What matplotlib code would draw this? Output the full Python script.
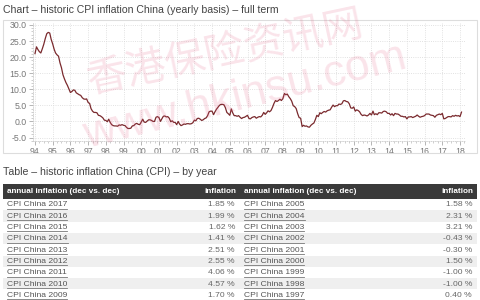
import numpy as np
import pandas as pd
import matplotlib
matplotlib.use("Agg")
import matplotlib.pyplot as plt
import matplotlib.dates as mdates
from matplotlib.patches import Rectangle

plt.rcParams['font.family'] = ['Liberation Sans', 'DejaVu Sans']

# monthly CPI inflation China (yoy, %), Jan 1994 - Feb 2018
cpi = [
    21.1, 23.2, 22.4, 21.7, 21.3, 22.6, 24.0, 25.8, 27.3, 27.7, 27.5, 25.5,  # 1994
    24.1, 22.4, 21.3, 20.7, 20.3, 18.2, 16.7, 14.5, 13.2, 12.1, 11.2, 10.1,  # 1995
    9.0, 9.3, 9.8, 9.7, 8.9, 8.6, 8.3, 8.1, 7.4, 7.0, 6.9, 7.0,              # 1996
    5.9, 5.6, 4.0, 3.2, 2.8, 2.8, 2.7, 1.9, 1.8, 1.5, 1.1, 0.4,              # 1997
    0.3, -0.1, 0.7, -0.3, -1.0, -1.3, -1.4, -1.4, -1.5, -1.1, -1.2, -1.0,    # 1998
    -1.2, -1.3, -1.8, -2.2, -2.2, -2.1, -1.4, -1.3, -0.8, -0.6, -0.9, -1.0,  # 1999
    -0.2, 0.7, -0.2, -0.3, 0.1, 0.5, 0.5, 0.3, 0.0, 0.0, 1.3, 1.5,           # 2000
    1.2, 0.0, 0.8, 1.6, 1.7, 1.4, 1.5, 1.0, -0.1, 0.2, -0.3, -0.3,           # 2001
    -1.0, 0.0, -0.8, -1.3, -1.1, -0.8, -0.9, -0.7, -0.7, -0.8, -0.7, -0.4,   # 2002
    0.4, 0.2, 0.9, 1.0, 0.7, 0.3, 0.5, 0.9, 1.1, 1.8, 3.0, 3.2,              # 2003
    3.2, 2.1, 3.0, 3.8, 4.4, 5.0, 5.3, 5.3, 5.2, 4.3, 2.8, 2.4,              # 2004
    1.9, 3.9, 2.7, 1.8, 1.8, 1.6, 1.8, 1.3, 0.9, 1.2, 1.3, 1.6,              # 2005
    1.9, 0.9, 0.8, 1.2, 1.4, 1.5, 1.0, 1.3, 1.5, 1.4, 1.9, 2.8,              # 2006
    2.2, 2.7, 3.3, 3.0, 3.4, 4.4, 5.6, 6.5, 6.2, 6.5, 6.9, 6.5,              # 2007
    7.1, 8.7, 8.3, 8.5, 7.7, 7.1, 6.3, 4.9, 4.6, 4.0, 2.4, 1.2,              # 2008
    1.0, -1.6, -1.2, -1.5, -1.4, -1.7, -1.8, -1.2, -0.8, -0.5, 0.6, 1.9,     # 2009
    1.5, 2.7, 2.4, 2.8, 3.1, 2.9, 3.3, 3.5, 3.6, 4.4, 5.1, 4.6,              # 2010
    4.9, 4.9, 5.4, 5.3, 5.5, 6.4, 6.5, 6.2, 6.1, 5.5, 4.2, 4.1,              # 2011
    4.5, 3.2, 3.6, 3.4, 3.0, 2.2, 1.8, 2.0, 1.9, 1.7, 2.0, 2.5,              # 2012
    2.0, 3.2, 2.1, 2.4, 2.1, 2.7, 2.7, 2.6, 3.1, 3.2, 3.0, 2.5,              # 2013
    2.5, 2.0, 2.4, 1.8, 2.5, 2.3, 2.3, 2.0, 1.6, 1.6, 1.4, 1.5,              # 2014
    0.8, 1.4, 1.4, 1.5, 1.2, 1.4, 1.6, 2.0, 1.6, 1.3, 1.5, 1.6,              # 2015
    1.8, 2.3, 2.3, 2.3, 2.0, 1.9, 1.8, 1.3, 1.9, 2.1, 2.3, 2.1,              # 2016
    2.5, 0.8, 0.9, 1.2, 1.5, 1.5, 1.4, 1.8, 1.6, 1.9, 1.7, 1.8,              # 2017
    1.5, 2.9,                                                                # 2018
]
dates = pd.date_range('1994-01-01', periods=len(cpi), freq='MS')

y_ticks = [30.0, 25.0, 20.0, 15.0, 10.0, 5.0, 0.0, -5.0]

left_years = [2017, 2016, 2015, 2014, 2013, 2012, 2011, 2010, 2009]
left_vals = [1.85, 1.99, 1.62, 1.41, 2.51, 2.55, 4.06, 4.57, 1.70]
right_years = [2005, 2004, 2003, 2002, 2001, 2000, 1999, 1998, 1997]
right_vals = [1.58, 2.31, 3.21, -0.43, -0.30, 1.50, -1.00, -1.00, 0.40]

W, H = 480, 300
fig = plt.figure(figsize=(4.8, 3.0), dpi=100)
fig.patch.set_facecolor('white')

def px(x, y):
    # pixel coords (top-left origin) -> figure fraction
    return x / W, 1 - y / H

# chart frame
frame = Rectangle(px(3, 153), 474 / W, 133 / H, transform=fig.transFigure,
                  fill=False, edgecolor='#dddddd', lw=0.8)
fig.add_artist(frame)
fig.text(*px(3, 10), 'Chart \u2013 historic CPI inflation China (yearly basis) \u2013 full term',
         fontsize=7.6, color='#444444', va='center', ha='left')

# chart axes
ax_l, ax_r, ax_t, ax_b = 33, 465, 22, 141
ax = fig.add_axes([ax_l / W, 1 - ax_b / H, (ax_r - ax_l) / W, (ax_b - ax_t) / H])
ax.plot(dates, cpi, color='#7a2a2e', lw=0.9, zorder=3)

d94 = mdates.date2num(pd.Timestamp('1994-01-01'))
d18 = mdates.date2num(pd.Timestamp('2018-01-01'))
ppx = (d18 - d94) / (460 - 35)
ax.set_xlim(d94 - (35 - ax_l) * ppx, d18 + (ax_r - 460) * ppx)
upx = 35.0 / (137.5 - 25)
ax.set_ylim(-5 - (ax_b - 137.5) * upx, 30 + (25 - ax_t) * upx)

ax.xaxis.set_major_locator(mdates.YearLocator())
ax.xaxis.set_major_formatter(mdates.DateFormatter('%y'))
ax.xaxis.set_minor_locator(mdates.MonthLocator(bymonth=[4, 7, 10]))
ax.set_yticks(y_ticks)
ax.set_yticklabels(['%.1f' % v for v in y_ticks])
ax.yaxis.set_minor_locator(plt.MultipleLocator(1.0))

ax.tick_params(axis='both', which='major', labelsize=6.3, labelcolor='#777777',
               color='#aaaaaa', length=3, width=0.6, pad=1.5)
ax.tick_params(axis='both', which='minor', color='#bbbbbb', length=1.5, width=0.5)
ax.tick_params(axis='x', pad=1.5)
ax.grid(True, which='major', linestyle=':', color='#d8d8d8', lw=0.6)
for s in ['top', 'right']:
    ax.spines[s].set_visible(False)
for s in ['left', 'bottom']:
    ax.spines[s].set_color('#cccccc')
    ax.spines[s].set_linewidth(0.6)
    ax.spines[s].set_linestyle(':')
ax.set_facecolor('none')

# table
fig.text(*px(3, 172), 'Table \u2013 historic inflation China (CPI) \u2013 by year',
         fontsize=7.6, color='#444444', va='center', ha='left')

tab = fig.add_axes([0, 0, 1, 1])
tab.set_xlim(0, W)
tab.set_ylim(H, 0)
tab.axis('off')

head_top, head_bot = 184, 199
row_h = 11.3
tab.add_patch(Rectangle((3, head_top), 474, head_bot - head_top, color='#3a3a3a', lw=0))
cols = [(3, 240, left_years, left_vals), (240, 477, right_years, right_vals)]
under = []
for x0, x1, years, vals in cols:
    tab.text(x0 + 4, (head_top + head_bot) / 2, 'annual inflation (dec vs. dec)', color='white',
             fontsize=5.9, fontweight='bold', va='center', ha='left')
    tab.text(x1 - 4, (head_top + head_bot) / 2, 'inflation', color='white',
             fontsize=5.9, fontweight='bold', va='center', ha='right')
    for i, (yr, v) in enumerate(zip(years, vals)):
        top = head_bot + i * row_h
        if i % 2 == 1:
            tab.add_patch(Rectangle((x0, top), x1 - x0, row_h, color='#efefef', lw=0))
        t = tab.text(x0 + 4, top + row_h / 2 + 0.3, 'CPI China %d' % yr, color='#555555',
                     fontsize=6.1, va='center', ha='left')
        under.append(t)
        tab.text(x1 - 5, top + row_h / 2 + 0.3, '%.2f %%' % v, color='#666666',
                 fontsize=6.1, va='center', ha='right')

# underline the links
fig.canvas.draw()
r = fig.canvas.get_renderer()
inv = tab.transData.inverted()
for t in under:
    bb = t.get_window_extent(r)
    (xa, ya), (xb, yb) = inv.transform([[bb.x0, bb.y0], [bb.x1, bb.y1]])
    tab.plot([xa, xb], [ya + 0.3, ya + 0.3], color='#777777', lw=0.6)

# watermark
fig.text(*px(225, 52), '香港保险资讯网', family=['Noto Sans CJK SC', 'DejaVu Sans'],
         fontsize=29, color='#e45b80', alpha=0.17, rotation=12,
         ha='center', va='center', zorder=10)
fig.text(*px(245, 97), 'www.hkinsu.com', fontsize=32,
         color='#e45b80', alpha=0.17, rotation=14, ha='center', va='center', zorder=10)

fig.savefig('out.png', dpi=100, facecolor='white')
